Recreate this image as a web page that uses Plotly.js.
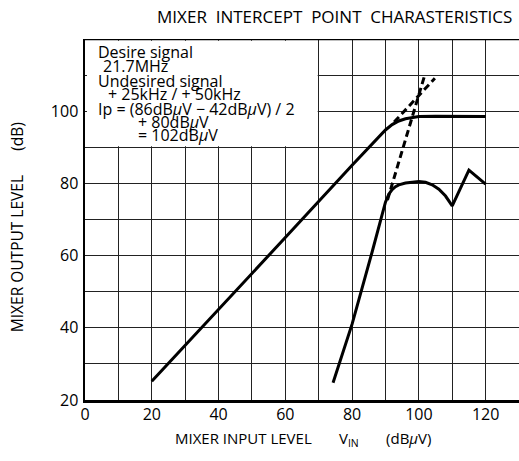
<!DOCTYPE html>
<html>
<head>
<meta charset="utf-8">
<script src="https://cdn.plot.ly/plotly-3.0.1.min.js"></script>
<style>html,body{margin:0;padding:0;background:#fff;}#chart{width:519px;height:461px;}</style>
</head>
<body>
<div id="chart"></div>
<script>
// Fundamental output (desired signal)
const fundX = [20, 40, 60, 80, 86, 88, 90, 92, 94, 96, 98, 100, 105, 110, 120];
const fundY = [25.2, 45, 65, 85, 91, 93, 94.8, 96.3, 97.3, 97.9, 98.3, 98.5, 98.6, 98.6, 98.5];
// Third-order intermodulation output
const imX = [74.3, 80, 86, 90, 91, 92, 93, 94, 96, 98, 100, 102, 104, 106, 108, 110, 115, 120];
const imY = [24.8, 41, 61, 74.8, 77, 78.3, 79.1, 79.6, 80.1, 80.4, 80.5, 80.3, 79.6, 78.4, 76.5, 73.8, 83.7, 79.8];
// Extrapolation lines (dashed)
const extFundX = [92.6, 104.8];
const extFundY = [97.0, 109.1];
const extImX = [90.6, 101.6];
const extImY = [75.4, 109.5];
// Tick labels (grid every 10, labels every 20)
const xTicks = [0, 10, 20, 30, 40, 50, 60, 70, 80, 90, 100, 110, 120, 130];
const xLabels = ["0", "", "20", "", "40", "", "60", "", "80", "", "100", "", "120", ""];
const yTicks = [20, 30, 40, 50, 60, 70, 80, 90, 100, 110, 120];
const yLabels = ["20", "", "40", "", "60", "", "80", "", "100", "", ""];
// Note text lines
const noteLines = [
  "Desire signal",
  "21.7MHz",
  "Undesired signal",
  "+ 25kHz / + 50kHz",
  "Ip = (86dB<i>μ</i>V − 42dB<i>μ</i>V) / 2",
  "+ 80dB<i>μ</i>V",
  "= 102dB<i>μ</i>V"
];
const noteX = [3.3, 4.8, 3.3, 6.3, 3.3, 15.3, 15.3];
const noteY = [116.3, 112.6, 108.3, 104.9, 100.5, 97.0, 93.3];

const FONT = "Open Sans, Noto Sans, sans-serif";
const lineStyle = {color: "#000", width: 3};
const traces = [
  {x: fundX, y: fundY, mode: "lines", line: lineStyle, hoverinfo: "skip"},
  {x: imX, y: imY, mode: "lines", line: lineStyle, hoverinfo: "skip"},
  {x: extFundX, y: extFundY, mode: "lines", line: {color: "#000", width: 3, dash: "7px,4px"}, hoverinfo: "skip"},
  {x: extImX, y: extImY, mode: "lines", line: {color: "#000", width: 3, dash: "7px,4px"}, hoverinfo: "skip"}
];

const SP = "&nbsp;".repeat(7);
const annotations = noteLines.map((t, i) => ({
  text: t, x: noteX[i], y: noteY[i], xref: "x", yref: "y",
  xanchor: "left", yanchor: "middle", showarrow: false,
  font: {family: FONT, size: 16, color: "#000"}
}));
annotations.push({
  text: "MIXER INPUT LEVEL" + SP + "V<sub>IN</sub>" + SP + "(dB<i>μ</i>V)",
  xref: "paper", yref: "paper", x: 0.503, y: -0.108, xanchor: "center", yanchor: "middle",
  showarrow: false, font: {family: FONT, size: 15, color: "#000"}
});
annotations.push({
  text: "MIXER OUTPUT LEVEL" + "&nbsp;".repeat(6) + "(dB)",
  xref: "paper", yref: "paper", x: -0.155, y: 0.478, xanchor: "center", yanchor: "middle",
  textangle: -90, showarrow: false, font: {family: FONT, size: 15.5, color: "#000"}
});

const axisCommon = {
  showline: true, linecolor: "#000", linewidth: 2.5,
  showgrid: true, gridcolor: "#222", gridwidth: 1, zeroline: false, ticks: "",
  tickfont: {family: FONT, size: 16, color: "#000"}, fixedrange: true
};

const layout = {
  width: 519, height: 461,
  margin: {l: 85, r: 0, t: 39, b: 61},
  paper_bgcolor: "#fff", plot_bgcolor: "#fff",
  showlegend: false,
  title: {text: "MIXER  INTERCEPT  POINT  CHARASTERISTICS", x: 0.645, xanchor: "center", y: 0.962, yanchor: "middle",
          font: {family: FONT, size: 17, color: "#000"}},
  xaxis: Object.assign({}, axisCommon, {range: [0, 130], tickmode: "array", tickvals: xTicks, ticktext: xLabels, ticklabelstandoff: -2}),
  yaxis: Object.assign({}, axisCommon, {range: [20, 120], tickmode: "array", tickvals: yTicks, ticktext: yLabels, ticklabelstandoff: 1}),
  shapes: [
    {type: "rect", xref: "x", yref: "y", x0: 0.6, x1: 69.7, y0: 90.3, y1: 119.5, fillcolor: "#fff", line: {width: 0}, layer: "between"},
    {type: "line", xref: "paper", yref: "y", x0: 0, x1: 1, y0: 120, y1: 120, line: {color: "#000", width: 2.5}, layer: "above"}
  ],
  annotations: annotations
};

Plotly.newPlot("chart", traces, layout, {staticPlot: true, displayModeBar: false});
</script>
</body>
</html>
